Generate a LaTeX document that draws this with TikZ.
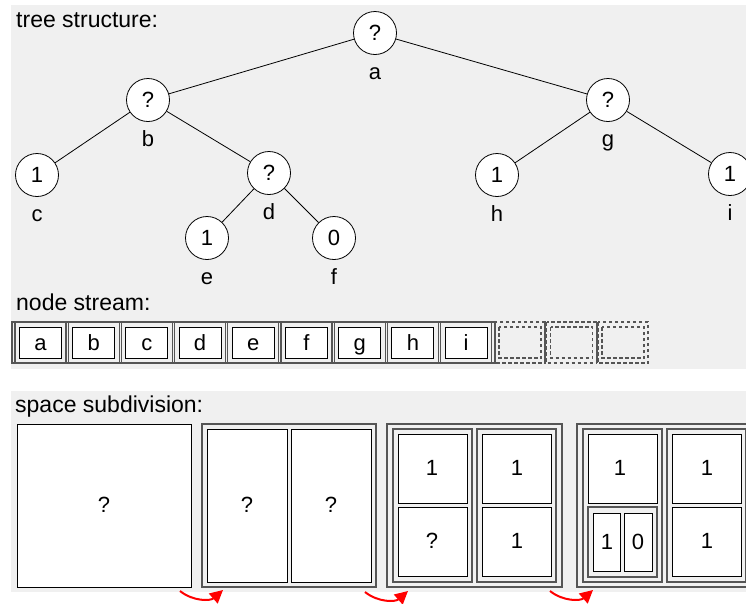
\documentclass[tikz,border=0pt]{standalone}
\usepackage{fontspec}
\setmainfont{Liberation Sans}
\usetikzlibrary{arrows.meta}
\definecolor{panel}{HTML}{F0F0F0}
\definecolor{framec}{HTML}{555555}
\begin{document}
\begin{tikzpicture}[x=1pt,y=-1pt,
  txt/.style={font=\fontsize{22}{26}\selectfont},
  heading/.style={anchor=base west, inner sep=0, font=\fontsize{23}{27}\selectfont},
  tnode/.style={circle, draw=black, fill=white, line width=0.8pt,
    minimum size=43pt, inner sep=0, txt},
  tlabel/.style={anchor=base, inner sep=0, txt},
  edge/.style={draw=black, line width=0.8pt},
  framebox/.style={draw=framec, fill=panel, line width=1.2pt},
  leafbox/.style={draw=black, fill=white, line width=1pt},
  cellbox/.style={leafbox, minimum width=42pt, minimum height=31pt, inner sep=0,
    text height=18pt, text depth=3pt, txt},
  dashbox/.style={draw=framec, dashed, dash pattern=on 3.5pt off 2.5pt, line width=1.1pt},
  flow/.style={draw=red, line width=2pt, -{Triangle[length=13pt,width=13pt]}}
]
\useasboundingbox (0,0) rectangle (746,603);

% background panels
\fill[panel] (11,5) rectangle (746,369);
\fill[panel] (11,391) rectangle (746,592);

% ---------- tree structure ----------
\node[heading] at (16,27) {tree structure:};

\node[tnode] (a) at (375,33) {?};
\node[tnode] (b) at (148,100) {?};
\node[tnode] (g) at (608,100) {?};
\node[tnode] (c) at (37,175) {1};
\node[tnode] (d) at (269,173) {?};
\node[tnode] (h) at (497,175) {1};
\node[tnode] (i) at (730,174) {1};
\node[tnode] (e) at (207,238) {1};
\node[tnode] (f) at (334,238) {0};

\foreach \n/\l in {a/a,b/b,g/g,c/c,d/d,h/h,i/i,e/e,f/f}
  \node[tlabel] (lbl\n) at ([yshift=-46pt]\n.center) {\l};

\draw[edge] (a) -- (b);
\draw[edge] (a) -- (g);
\draw[edge] (b) -- (c);
\draw[edge] (b) -- (d);
\draw[edge] (d) -- (e);
\draw[edge] (d) -- (f);
\draw[edge] (g) -- (h);
\draw[edge] (g) -- (i);

% ---------- node stream ----------
\node[heading] at (16,310) {node stream:};

\draw[framebox] (12,322) rectangle (495,363);
\foreach \k/\t [count=\j from 0] in {a/a,b/b,c/c,d/d,e/e,f/f,g/g,h/h,i/i}{
  \draw[framebox] (15+53.2*\j,322) rectangle (15+53.2*\j+51,363);
  \node[cellbox] (s\k) at (15+53.2*\j+25.5,342.5) {\t};
}
\foreach \j in {0,1,2}{
  \draw[dashbox] (495+51.5*\j,322) rectangle (495+51.5*\j+50,363);
  \draw[dashbox] (499+51.5*\j,327) rectangle (495+51.5*\j+46,358);
}
\draw[framec, line width=1.2pt] (545,322) -- (545,363);
\draw[framec, line width=1.2pt] (597,322) -- (597,363);

% ---------- space subdivision ----------
\node[heading] at (15,412) {space subdivision:};

% level 0
\draw[leafbox] (17,424) rectangle (191,587);
\node[txt] at (104,505) {?};

% level 1
\draw[framebox] (202,424) rectangle (376,587);
\draw[leafbox] (207,429) rectangle (287,582);
\draw[leafbox] (291,429) rectangle (371,582);
\node[txt] at (247,505) {?};
\node[txt] at (331,505) {?};

% level 2
\draw[framebox] (387,424) rectangle (562,587);
\draw[framebox] (393,429) rectangle (472,582);
\draw[framebox] (477,429) rectangle (556,582);
\draw[leafbox] (398,434) rectangle (467,503);
\draw[leafbox] (398,507) rectangle (467,576);
\draw[leafbox] (482,434) rectangle (551,503);
\draw[leafbox] (482,507) rectangle (551,576);
\node[txt] at (432,468) {1};
\node[txt] at (432,541) {?};
\node[txt] at (517,468) {1};
\node[txt] at (517,541) {1};

% level 3
\draw[framebox] (577,424) rectangle (752,587);
\draw[framebox] (583,429) rectangle (662,582);
\draw[framebox] (667,429) rectangle (746,582);
\draw[leafbox] (588,434) rectangle (657,503);
\draw[framebox] (588,507) rectangle (657,577);
\draw[leafbox] (593,513) rectangle (620,571);
\draw[leafbox] (624,513) rectangle (652,571);
\draw[leafbox] (672,434) rectangle (741,503);
\draw[leafbox] (672,507) rectangle (741,576);
\node[txt] at (620,468) {1};
\node[txt] at (607,542) {1};
\node[txt] at (638,542) {0};
\node[txt] at (707,468) {1};
\node[txt] at (707,541) {1};

% refinement arrows
\coordinate (r1s) at (180,591);
\coordinate (r1t) at (223,590);
\coordinate (r2s) at (365,592);
\coordinate (r2t) at (408,591);
\coordinate (r3s) at (550,591);
\coordinate (r3t) at (593,590);
\draw[flow] (r1s) to[bend right=40] (r1t);
\draw[flow] (r2s) to[bend right=40] (r2t);
\draw[flow] (r3s) to[bend right=40] (r3t);
\end{tikzpicture}
\end{document}
